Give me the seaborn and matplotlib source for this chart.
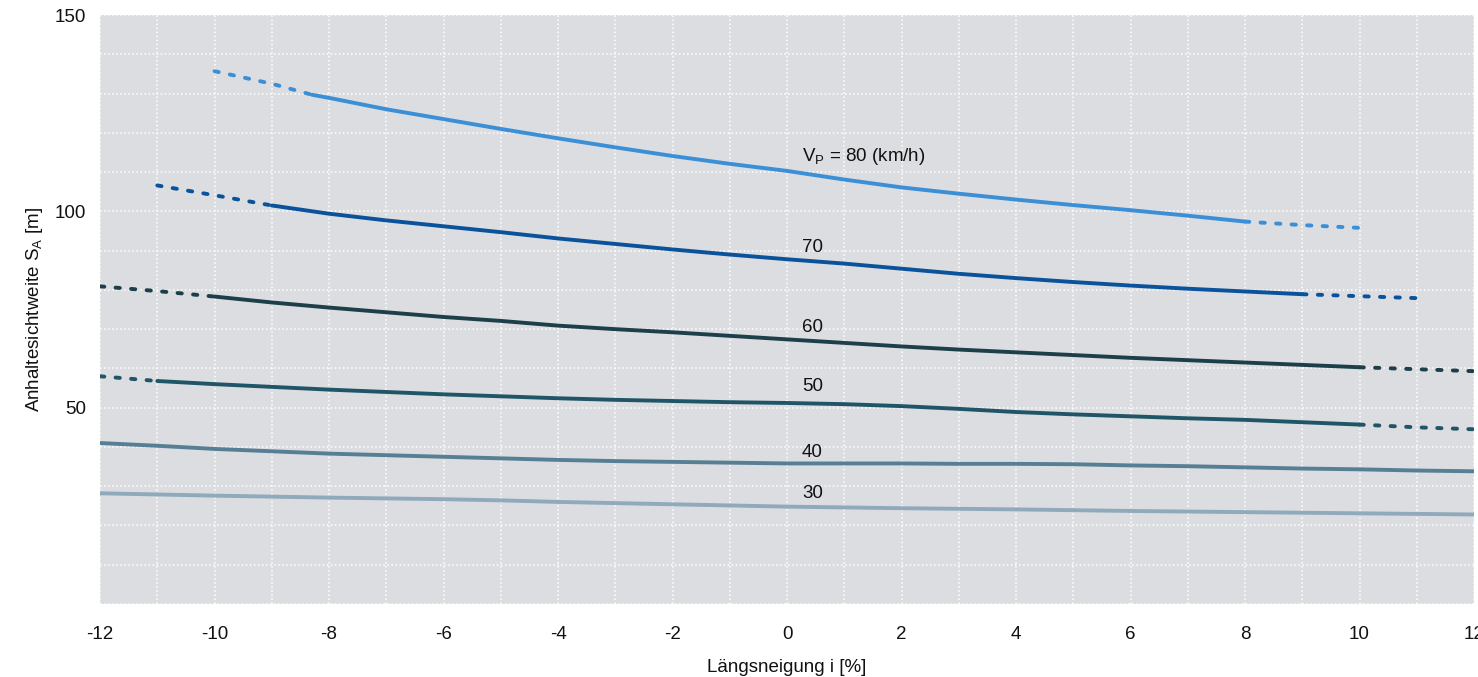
import numpy as np
import pandas as pd
import seaborn as sns
import matplotlib.pyplot as plt
from matplotlib.ticker import MultipleLocator, FixedLocator

# Längsneigung i [%] and Anhaltesichtweite S_A [m] per design speed
x80 = [-10, -9, -8.3, -8, -7, -6, -5, -4, -3, -2, -1, 0, 1, 2, 3, 4, 5, 6, 7, 8, 9, 10]
y80 = [135.7, 132.5, 129.7, 128.9, 126.0, 123.5, 121.0, 118.6, 116.3, 114.1, 112.1,
       110.3, 108.1, 106.1, 104.5, 103.0, 101.6, 100.3, 98.9, 97.4, 96.5, 95.8]

x70 = list(range(-11, 12))
y70 = [106.6, 104.1, 101.5, 99.4, 97.7, 96.2, 94.7, 93.1, 91.7, 90.3, 89.0, 87.8,
       86.7, 85.4, 84.1, 83.0, 82.0, 81.1, 80.3, 79.6, 78.9, 78.4, 77.9]

x60 = list(range(-12, 13))
y60 = [80.9, 79.7, 78.3, 76.8, 75.5, 74.3, 73.1, 72.1, 70.9, 70.0, 69.2, 68.3, 67.4,
       66.5, 65.6, 64.8, 64.1, 63.4, 62.7, 62.1, 61.5, 60.9, 60.3, 59.8, 59.3]

x50 = list(range(-12, 13))
y50 = [58.0, 56.8, 56.0, 55.3, 54.6, 54.0, 53.4, 52.9, 52.4, 52.0, 51.7, 51.4, 51.2,
       50.9, 50.4, 49.7, 48.9, 48.3, 47.8, 47.3, 46.9, 46.3, 45.7, 45.0, 44.5]

x40 = list(range(-12, 13))
y40 = [41.0, 40.3, 39.5, 38.9, 38.3, 37.9, 37.5, 37.1, 36.7, 36.4, 36.2, 36.0, 35.8,
       35.8, 35.8, 35.7, 35.7, 35.6, 35.3, 35.1, 34.8, 34.5, 34.3, 34.0, 33.8]

x30 = list(range(-12, 13))
y30 = [28.2, 27.9, 27.6, 27.35, 27.1, 26.9, 26.7, 26.4, 26.0, 25.7, 25.4, 25.1, 24.8,
       24.6, 24.4, 24.25, 24.1, 23.9, 23.7, 23.55, 23.4, 23.25, 23.1, 22.95, 22.8]

# range of the solid (valid) part of each curve, outside is dashed
solid80 = (-8.3, 8)
solid70 = (-9, 9)
solid60 = (-10, 10)
solid50 = (-11, 10)
solid40 = (-12, 12)
solid30 = (-12, 12)

speeds = [80, 70, 60, 50, 40, 30]
labels = ['V$_\\mathregular{P}$ = 80 (km/h)', '70', '60', '50', '40', '30']
label_y = [112.8, 89.6, 69.3, 54.3, 37.5, 26.9]
colors = ['#3b8fd6', '#0a529b', '#1c3f4a', '#1f5566', '#567f94', '#8eaabb']
y_ticks = [50, 100, 150]

curves = {
    80: (x80, y80, solid80),
    70: (x70, y70, solid70),
    60: (x60, y60, solid60),
    50: (x50, y50, solid50),
    40: (x40, y40, solid40),
    30: (x30, y30, solid30),
}

sns.set_style('dark', {'axes.facecolor': '#dcdde0'})
plt.rcParams['font.family'] = ['Liberation Sans', 'DejaVu Sans']
plt.rcParams['axes.unicode_minus'] = False

fig = plt.figure(figsize=(14.78, 6.77), dpi=100)
ax = fig.add_axes([0.0677, 0.1078, 0.9296, 0.87])

for v, col in zip(speeds, colors):
    xs, ys, (lo, hi) = curves[v]
    df = pd.DataFrame({'i': xs, 'sa': ys})
    parts = [
        (df[df['i'] <= lo], (0, (1.1, 2.9))),
        (df[(df['i'] >= lo) & (df['i'] <= hi)], '-'),
        (df[df['i'] >= hi], (0, (1.1, 2.9))),
    ]
    for part, ls in parts:
        if len(part) < 2:
            continue
        sns.lineplot(data=part, x='i', y='sa', ax=ax, color=col, lw=2.8,
                     linestyle=ls, dash_capstyle='round',
                     solid_capstyle='round', sort=False)

for lab, ly in zip(labels, label_y):
    ax.text(0.26, ly, lab, fontsize=13.5, color='#111111', va='baseline', ha='left')

ax.set_xlim(-12, 12)
ax.set_ylim(0, 150)
ax.xaxis.set_major_locator(MultipleLocator(2))
ax.xaxis.set_minor_locator(MultipleLocator(1))
ax.yaxis.set_major_locator(FixedLocator(y_ticks))
ax.yaxis.set_minor_locator(MultipleLocator(10))
ax.grid(which='both', color='white', linestyle=':', lw=1.1)
ax.tick_params(which='both', length=0, labelsize=13.5, colors='#111111')
ax.tick_params(axis='x', pad=16)
ax.tick_params(axis='y', pad=10)
for s in ax.spines.values():
    s.set_visible(False)

ax.set_xlabel('Längsneigung i [%]', fontsize=13.5, labelpad=11, color='#111111')
ax.set_ylabel('Anhaltesichtweite S$_\\mathregular{A}$ [m]', fontsize=13.5,
              labelpad=7, color='#111111')

fig.savefig('out.png', dpi=100)
